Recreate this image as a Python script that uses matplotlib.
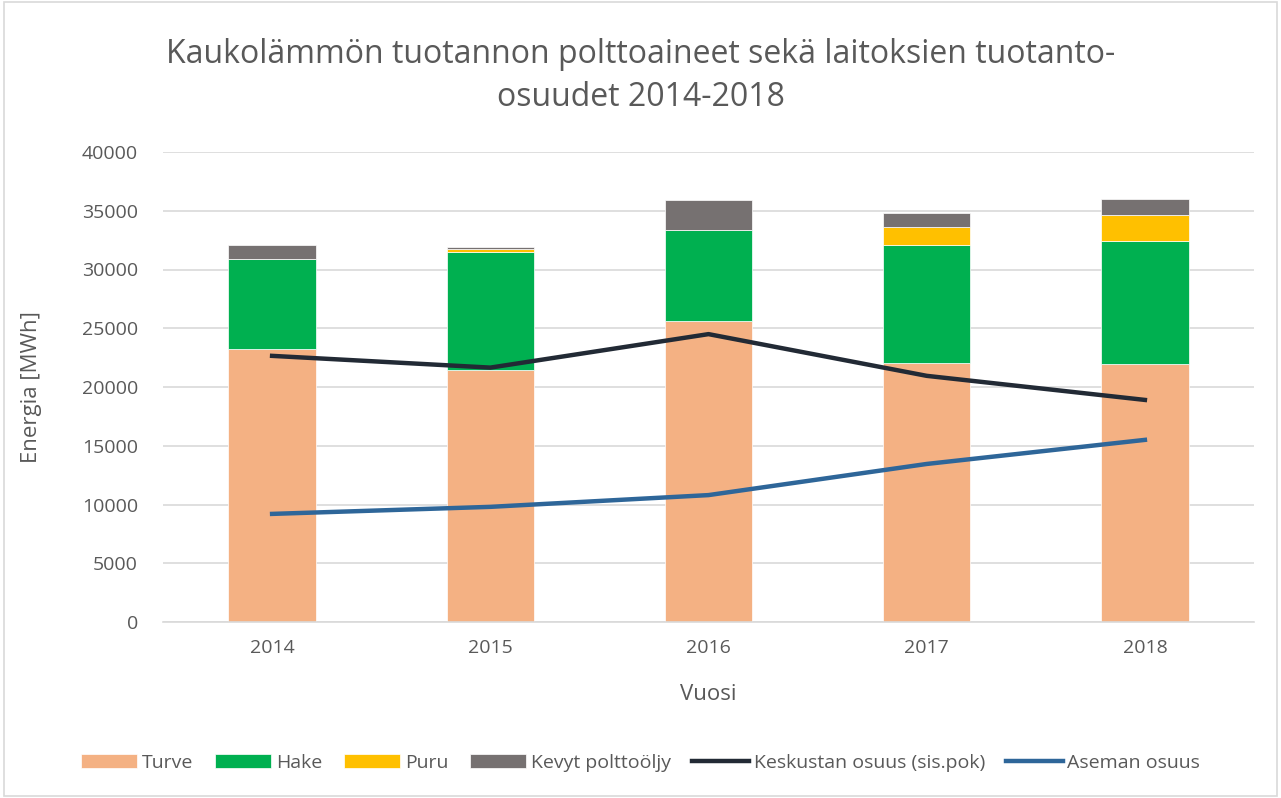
import matplotlib
matplotlib.use("Agg")
import matplotlib.pyplot as plt
import numpy as np

years = ["2014", "2015", "2016", "2017", "2018"]
turve = [23200, 21450, 25650, 22050, 22000]
hake = [7700, 10050, 7750, 10050, 10450]
puru = [0, 230, 0, 1480, 2200]
kevyt = [1150, 170, 2500, 1200, 1350]
keskusta = [22650, 21650, 24500, 20950, 18900]
asema = [9200, 9800, 10800, 13450, 15500]

plt.rcParams['font.family'] = ['Open Sans', 'DejaVu Sans']

fig = plt.figure(figsize=(12.81, 7.98), dpi=100)
ax = fig.add_axes([163/1281, 1-622/798, (1254-163)/1281, (622-152)/798])

x = np.arange(len(years))
w = 0.4
ec = 'white'
b1 = ax.bar(x, turve, w, color='#F4B183', label='Turve', edgecolor=ec, linewidth=0.5, zorder=2)
b2 = ax.bar(x, hake, w, bottom=turve, color='#00B050', label='Hake', edgecolor=ec, linewidth=0.5, zorder=2)
bot3 = np.array(turve) + np.array(hake)
b3 = ax.bar(x, puru, w, bottom=bot3, color='#FFC000', label='Puru', edgecolor=ec, linewidth=0.5, zorder=2)
bot4 = bot3 + np.array(puru)
b4 = ax.bar(x, kevyt, w, bottom=bot4, color='#767171', label='Kevyt polttoöljy', edgecolor=ec, linewidth=0.5, zorder=2)
l1, = ax.plot(x, keskusta, color='#222A35', linewidth=3.2, label='Keskustan osuus (sis.pok)', zorder=3)
l2, = ax.plot(x, asema, color='#2E6699', linewidth=3.2, label='Aseman osuus', zorder=3)

ax.set_xlim(-0.5, 4.5)
ax.set_ylim(0, 40000)
ax.set_yticks(np.arange(0, 40001, 5000))
ax.set_xticks(x)
ax.set_xticklabels(years)
ax.yaxis.grid(True, color='#D9D9D9', linewidth=1.2, zorder=0)
ax.set_axisbelow(True)
for s in ['top', 'right', 'left']:
    ax.spines[s].set_visible(False)
ax.spines['bottom'].set_color('#D9D9D9')
ax.spines['bottom'].set_linewidth(1.2)
ax.tick_params(axis='both', length=0, labelsize=14, colors='#595959')
ax.tick_params(axis='y', pad=18)
ax.tick_params(axis='x', pad=12)

ax.set_xlabel('Vuosi', fontsize=16, color='#595959', labelpad=20)
fig.text(32/1281, 1-387/798, 'Energia [MWh]', rotation=90, fontsize=16, color='#595959', ha='center', va='center')

fig.text(0.5, 1-76/798, 'Kaukolämmön tuotannon polttoaineet sekä laitoksien tuotanto-\nosuudet 2014-2018',
         ha='center', va='center', fontsize=23, color='#595959', linespacing=1.4)

leg = fig.legend(handles=[b1, b2, b3, b4, l1, l2], loc='center', bbox_to_anchor=(0.5, 1-763/798),
                 ncol=6, frameon=False, fontsize=14, handlelength=2.9, handletextpad=0.25,
                 columnspacing=1.1, labelcolor='#595959')

fig.patches.append(matplotlib.patches.Rectangle((0.003, 0.003), 0.994, 0.994, transform=fig.transFigure,
                                                 fill=False, edgecolor='#D9D9D9', linewidth=1.2))

fig.savefig('out.png', dpi=100)
